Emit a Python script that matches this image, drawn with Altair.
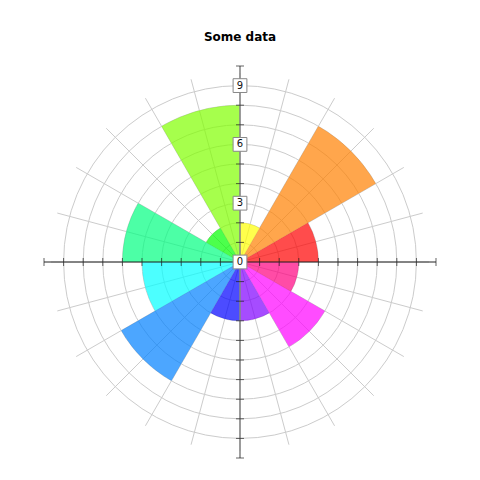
import altair as alt
import pandas as pd
import numpy as np

# ---- data ----
categories = ["red", "orange", "yellow", "chartreuse", "green", "spring green",
              "cyan", "azure", "blue", "violet", "magenta", "rose"]
values = [4, 8, 2, 8, 2, 6, 5, 7, 3, 3, 5, 3]
colors = ["#ff0000", "#ff8000", "#ffff00", "#80ff00", "#00ff00", "#00ff80",
          "#00ffff", "#0080ff", "#0000ff", "#8000ff", "#ff00ff", "#ff0080"]
sector_deg = 30
grid_radii = list(range(1, 10))
spoke_angles = list(range(0, 360, 15))
spoke_len = 9.65
tick_values = [v for v in range(-10, 11) if v != 0]
label_values = [0, 3, 6, 9]
r_max = 10

wedges = pd.DataFrame({"cat": categories, "value": values, "color": colors})
wedges["start"] = [i * sector_deg for i in range(len(categories))]
wedges["end"] = wedges["start"] + sector_deg

grid_df = pd.DataFrame({"r": grid_radii, "t0": 90, "t1": -270})
spoke_df = pd.DataFrame({"a": spoke_angles, "o": 0})
tick_df = pd.DataFrame({"t": tick_values, "o": 0})
label_df = pd.DataFrame({"v": label_values, "lab": [str(v) for v in label_values], "o": 0})
axis_df = pd.DataFrame({"lo": [-r_max], "hi": [r_max], "o": [0]})

# ---- scales ----
W = 392
xs = alt.Scale(domain=[-r_max, r_max], nice=False, zero=False)
ys = alt.Scale(domain=[-r_max, r_max], nice=False, zero=False)
ts = alt.Scale(domain=[90, -270], range=[0, 2 * np.pi])
rs = alt.Scale(domain=[0, r_max], range=[0, W / 2], zero=True, nice=False)

grid = alt.Chart(grid_df).mark_arc(filled=False, stroke="#cccccc", strokeWidth=1).encode(
    theta=alt.Theta("t0:Q", scale=ts, stack=None),
    theta2="t1:Q",
    radius=alt.Radius("r:Q", scale=rs),
)

spokes = alt.Chart(spoke_df).transform_calculate(
    xe=f"{spoke_len}*cos(datum.a*PI/180)",
    ye=f"{spoke_len}*sin(datum.a*PI/180)",
).mark_rule(color="#cccccc", strokeWidth=1).encode(
    x=alt.X("o:Q", scale=xs, axis=None),
    y=alt.Y("o:Q", scale=ys, axis=None),
    x2="xe:Q",
    y2="ye:Q",
)

arcs = alt.Chart(wedges).mark_arc(opacity=0.7).encode(
    theta=alt.Theta("start:Q", scale=ts, stack=None),
    theta2="end:Q",
    radius=alt.Radius("value:Q", scale=rs),
    color=alt.Color("color:N", scale=None),
)

hline = alt.Chart(axis_df).mark_rule(color="#222222", strokeWidth=1).encode(
    x=alt.X("lo:Q", scale=xs, axis=None), x2="hi:Q", y=alt.Y("o:Q", scale=ys, axis=None)
)
vline = alt.Chart(axis_df).mark_rule(color="#888888", strokeWidth=1.6).encode(
    y=alt.Y("lo:Q", scale=ys, axis=None), y2="hi:Q", x=alt.X("o:Q", scale=xs, axis=None)
)

hticks = alt.Chart(tick_df).mark_tick(orient="vertical", size=8, thickness=1, color="#222222").encode(
    x=alt.X("t:Q", scale=xs, axis=None), y=alt.Y("o:Q", scale=ys, axis=None)
)
vticks = alt.Chart(tick_df).mark_tick(orient="horizontal", size=8, thickness=1, color="#222222").encode(
    y=alt.Y("t:Q", scale=ys, axis=None), x=alt.X("o:Q", scale=xs, axis=None)
)

boxes = alt.Chart(label_df).mark_square(size=190, filled=True, fill="white", stroke="#888888",
                                         strokeWidth=1, opacity=1).encode(
    x=alt.X("o:Q", scale=xs, axis=None), y=alt.Y("v:Q", scale=ys, axis=None)
)
labels = alt.Chart(label_df).mark_text(font="DejaVu Sans", fontSize=10, color="#111111",
                                       baseline="middle", align="center").encode(
    x=alt.X("o:Q", scale=xs, axis=None), y=alt.Y("v:Q", scale=ys, axis=None), text="lab:N"
)

chart = alt.layer(grid, spokes, arcs, hline, vline, hticks, vticks, boxes, labels).properties(
    width=W, height=W,
    autosize=alt.AutoSizeParams(type="none"),
    padding={"left": 36, "top": 58, "right": 36, "bottom": 14},
    title=alt.TitleParams("Some data", font="DejaVu Sans", fontSize=12, fontWeight="bold",
                          color="black", anchor="middle", offset=21),
).configure_view(stroke=None)

chart.save("out.html", embed_options={"renderer": "svg", "actions": False})
